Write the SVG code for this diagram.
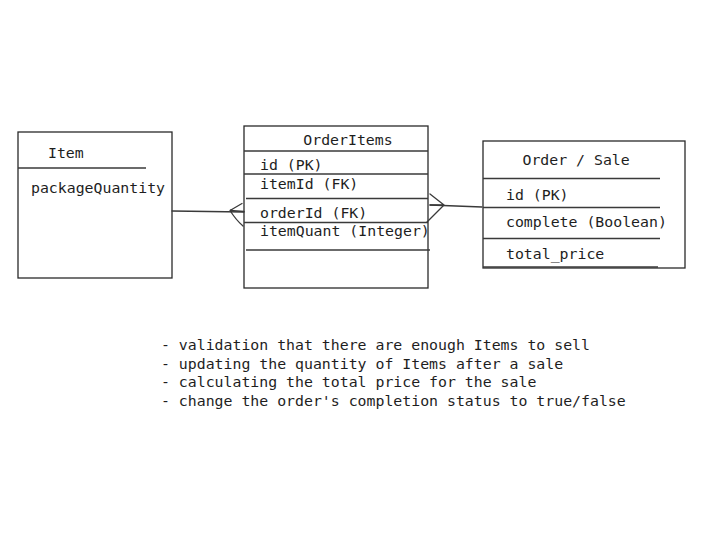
<svg xmlns="http://www.w3.org/2000/svg" width="706" height="552" viewBox="0 0 706 552">
<style>
text{font-family:"DejaVu Sans Mono","Liberation Mono",monospace;font-size:14.85px;fill:#1e1e1e}
.box{fill:none;stroke:#2a2a2a;stroke-width:1.3}
.sep{fill:none;stroke:#3a3a3a;stroke-width:1.3}
.con{fill:none;stroke:#3a3a3a;stroke-width:1.3;stroke-linecap:round;stroke-linejoin:round}
</style>
<rect width="706" height="552" fill="#ffffff"/>
<g id="item">
<rect class="box" x="18" y="132" width="154" height="146"/>
<line class="sep" x1="18" y1="168" x2="146" y2="168"/>
<text x="48" y="158">Item</text>
<text x="31" y="193">packageQuantity</text>
</g>
<g id="orderitems">
<rect class="box" x="244" y="126" width="184" height="162"/>
<line class="sep" x1="244" y1="151" x2="428" y2="151"/>
<line class="sep" x1="244" y1="174" x2="428" y2="174"/>
<line class="sep" x1="246" y1="198.5" x2="428" y2="198.5"/>
<line class="sep" x1="244" y1="222.5" x2="428" y2="222.5"/>
<line class="sep" x1="246" y1="250" x2="430" y2="250"/>
<text x="348" y="145" text-anchor="middle">OrderItems</text>
<text x="260" y="170">id (PK)</text>
<text x="260" y="188.5">itemId (FK)</text>
<text x="260" y="217.5">orderId (FK)</text>
<text x="260" y="236">itemQuant (Integer)</text>
</g>
<g id="ordersale">
<rect class="box" x="483" y="141" width="202" height="127"/>
<line class="sep" x1="483" y1="178.5" x2="660" y2="178.5"/>
<line class="sep" x1="483" y1="207.5" x2="660" y2="207.5"/>
<line class="sep" x1="483" y1="238.5" x2="660" y2="238.5"/>
<line class="sep" x1="483" y1="267" x2="658" y2="267"/>
<text x="522.5" y="165">Order / Sale</text>
<text x="506" y="200">id (PK)</text>
<text x="506" y="227">complete (Boolean)</text>
<text x="506" y="259">total_price</text>
</g>
<g id="connectors">
<path class="con" d="M172 211 L244 212"/>
<path class="con" d="M242 203.5 L230 210.5 L244 211.5 M230 210.5 Q236 220 243 226"/>
<path class="con" d="M430 205 L482 207"/>
<path class="con" d="M430 194 L444 205 L430 205 M444 205 L427 222"/>
</g>
<g id="notes">
<text x="161" y="350">- validation that there are enough Items to sell</text>
<text x="161" y="368.5">- updating the quantity of Items after a sale</text>
<text x="161" y="387">- calculating the total price for the sale</text>
<text x="161" y="405.5">- change the order's completion status to true/false</text>
</g>
</svg>
